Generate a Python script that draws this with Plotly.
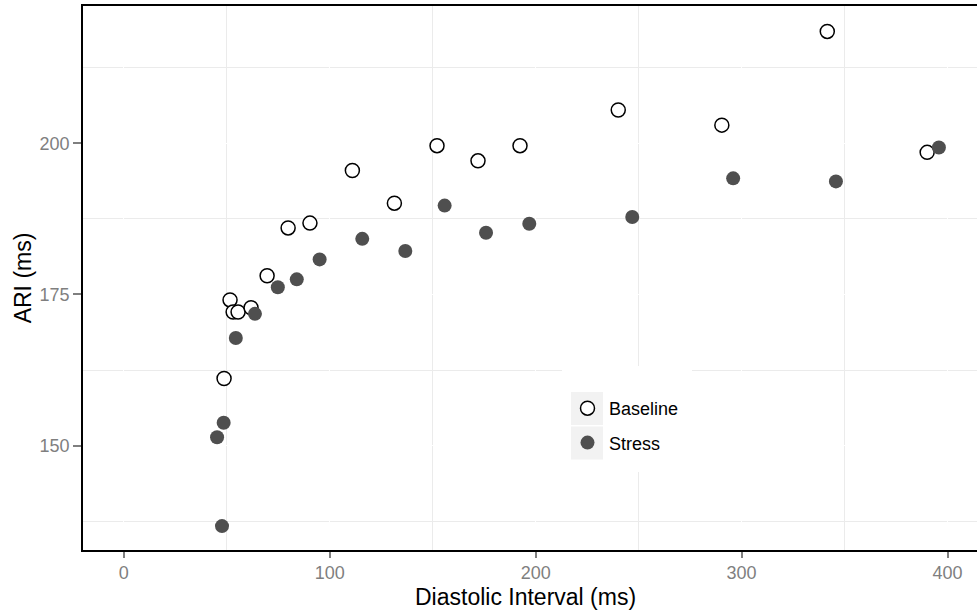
import plotly.graph_objects as go

# Data
baseline_x = [51.6, 53.1, 55.5, 61.8, 48.7, 69.6, 79.8, 90.4, 111.0, 131.4, 152.1, 172.0, 192.4, 240.1, 290.4, 341.6, 390.1]
baseline_y = [174.1, 172.1, 172.1, 172.8, 161.1, 178.1, 186.0, 186.8, 195.5, 190.1, 199.6, 197.1, 199.6, 205.5, 203.0, 218.5, 198.5]

stress_x = [47.7, 45.3, 48.5, 54.4, 63.7, 74.8, 84.0, 95.1, 115.8, 136.7, 155.8, 175.9, 196.9, 246.9, 295.9, 345.8, 395.8]
stress_y = [136.7, 151.4, 153.8, 167.8, 171.8, 176.2, 177.5, 180.8, 184.2, 182.2, 189.7, 185.2, 186.7, 187.8, 194.2, 193.7, 199.3]

x_ticks = [0, 100, 200, 300, 400]
y_ticks = [150, 175, 200]

FONT = "Liberation Sans, Arial, sans-serif"
GREY = "#7f7f7f"

fig = go.Figure()
fig.add_trace(go.Scatter(
    x=baseline_x, y=baseline_y, mode="markers", name="Baseline", legendgroup="a",
    marker=dict(symbol="circle", size=14, color="white", line=dict(color="black", width=1.5)),
))
fig.add_trace(go.Scatter(
    x=stress_x, y=stress_y, mode="markers", name="Stress", legendgroup="b",
    marker=dict(symbol="circle", size=14, color="#4f4f4f", line=dict(width=0)),
))

W, H = 977, 610
L, R, T, B = 83, 0, 6, 60
pw, ph = W - L - R, H - T - B

def px(x):
    return (x - L) / pw

def py(y):
    return (H - B - y) / ph

shapes = [
    dict(type="rect", xref="paper", yref="paper", x0=px(562), x1=px(692), y0=py(366), y1=py(472),
         fillcolor="white", line=dict(width=0), layer="above"),
    dict(type="rect", xref="paper", yref="paper", x0=px(571), x1=px(603), y0=py(392), y1=py(425),
         fillcolor="#f2f2f2", line=dict(width=0), layer="above"),
    dict(type="rect", xref="paper", yref="paper", x0=px(571), x1=px(603), y0=py(426.5), y1=py(459.5),
         fillcolor="#f2f2f2", line=dict(width=0), layer="above"),
]

fig.update_layout(
    width=W, height=H,
    margin=dict(l=L, r=R, t=T, b=B, pad=0),
    paper_bgcolor="white", plot_bgcolor="white",
    font=dict(family=FONT, color="black"),
    showlegend=True,
    legend=dict(x=px(566), y=py(390), xanchor="left", yanchor="top",
                bgcolor="rgba(0,0,0,0)", font=dict(size=18, color="black"),
                tracegroupgap=8, itemwidth=33),
    shapes=shapes,
    annotations=[dict(text="Diastolic Interval (ms)", xref="paper", yref="paper",
                      x=px(525), y=py(597), xanchor="center", yanchor="middle", showarrow=False,
                      font=dict(size=23, color="black", family=FONT))],
    xaxis=dict(
        range=[-19.8, 414.3], tickvals=x_ticks, ticktext=[str(v) for v in x_ticks],
        showline=True, linecolor="black", linewidth=1.5, mirror=True,
        ticks="outside", ticklen=6, tickwidth=1.5, tickcolor=GREY,
        tickfont=dict(size=18, color=GREY, family=FONT),
        showgrid=True, gridcolor="white", gridwidth=1, zeroline=False,
        minor=dict(dtick=50, tick0=50, showgrid=True, gridcolor="#ebebeb", gridwidth=1, ticks=""),
    ),
    yaxis=dict(
        range=[132.75, 222.7], tickvals=y_ticks, ticktext=[str(v) for v in y_ticks],
        showline=True, linecolor="black", linewidth=1.5, mirror=False,
        ticks="outside", ticklen=8, tickwidth=1.5, tickcolor=GREY,
        tickfont=dict(size=18, color=GREY, family=FONT),
        showgrid=True, gridcolor="white", gridwidth=1, zeroline=False,
        minor=dict(dtick=25, tick0=137.5, showgrid=True, gridcolor="#ebebeb", gridwidth=1, ticks=""),
        title=dict(text="ARI (ms)", font=dict(size=23, color="black", family=FONT), standoff=2),
    ),
)

fig.write_html("out.html")
